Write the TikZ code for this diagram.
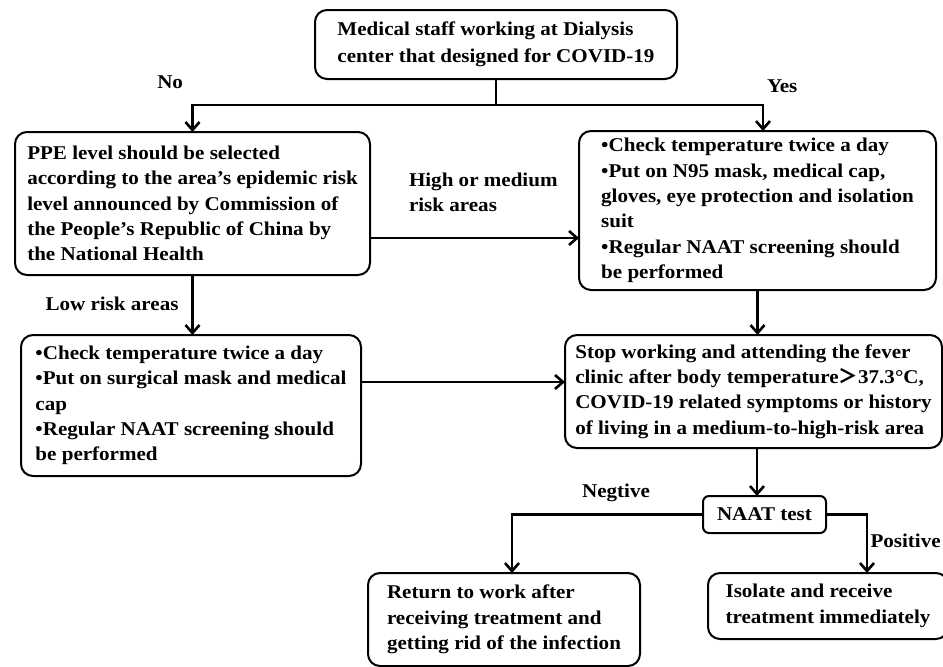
\documentclass[tikz,border=0pt]{standalone}
\usepackage{fontspec}
\setmainfont{Liberation Serif}[FakeStretch=1.08]
\newfontfamily\cjkfont{Noto Sans CJK SC}
\usetikzlibrary{positioning,arrows.meta}

\begin{document}
\begin{tikzpicture}[
	font=\fontsize{19.5}{25.4}\selectfont\bfseries,
	box/.style={
		draw,
		line width=2pt,
		rounded corners=12pt,
		align=left,
		inner xsep=6pt,
		inner ysep=4pt,
		outer sep=0pt,
	},
	rel/.style={-{Straight Barb[length=8pt,width=14pt]}, line width=2.6pt},
	lbl/.style={
		inner sep=0pt,
		outer sep=0pt,
		align=left,
	},
]

\useasboundingbox (0,0) rectangle (943pt,-667pt);

\node[box, minimum width=362pt, minimum height=69pt] (staff) at (496pt,-44.5pt) {
	Medical staff working at Dialysis\\[1.5pt]
	center that designed for COVID-19
};

\node[box, minimum width=355pt, minimum height=143pt, below left=53pt and -55pt of staff] (ppe) {
	PPE level should be selected\\
	according to the area’s epidemic risk\\
	level announced by Commission of\\
	the People’s Republic of China by\\
	the National Health
};

\node[box, minimum width=357pt, minimum height=159pt, below right=52pt and -98pt of staff] (check) {
	•Check temperature twice a day\\
	•Put on N95 mask, medical cap,\\
	gloves, eye protection and isolation\\
	suit\\
	•Regular NAAT screening should\\
	be performed
};

\node[box, minimum width=340pt, minimum height=141pt, below=60pt of ppe, xshift=-1.5pt] (low) {
	•Check temperature twice a day\\
	•Put on surgical mask and medical\\
	cap\\
	•Regular NAAT screening should\\
	be performed
};

\node[box, minimum width=377pt, minimum height=113pt, below=45pt of check, xshift=-4pt] (stop) {
	Stop working and attending the fever\\
	clinic after body temperature{\cjkfont ＞}37.3°C,\\
	COVID-19 related symptoms or history\\
	of living in a medium-to-high-risk area
};

\node[box, rounded corners=6pt, minimum width=123pt, minimum height=37pt, below=48pt of stop, xshift=11pt] (naat) {NAAT test};

\node[box, minimum width=272pt, minimum height=93pt, below left=40pt and 63pt of naat] (ret) {
	Return to work after\\
	receiving treatment and\\
	getting rid of the infection
};

\node[box, minimum width=240pt, minimum height=66pt, below right=40pt and -118pt of naat] (iso) {
	Isolate and receive\\
	treatment immediately
};

% connectors, labels sit beside the lines
\draw[line width=2.6pt] (staff.south) -- ++(0,-26pt) coordinate (split);
\draw[rel] (split) -| (ppe.north)
	node[lbl, pos=0.5, anchor=base east, xshift=-9.5pt, yshift=17pt] {No};
\draw[rel] (split) -| ([xshift=5.5pt]check.north)
	node[lbl, pos=0.5, anchor=base west, xshift=4pt, yshift=13pt] {Yes};

\coordinate (hm) at ([yshift=-34.5pt]ppe.east);
\draw[rel] (hm) -- (hm -| check.west)
	node[lbl, pos=0, anchor=south west, xshift=39pt, yshift=26pt] {High or medium\\risk areas};

\draw[rel] (ppe.south) -- (ppe.south |- low.north)
	node[lbl, pos=0.5, anchor=base east, xshift=-14pt, yshift=-5pt] {Low risk areas};

\coordinate (lr) at ([yshift=23.5pt]low.east);
\draw[rel] (lr) -- (lr -| stop.west);

\draw[rel] (check.south) -- (check.south |- stop.north);
\draw[rel] ([xshift=3.5pt]stop.south) -- ([xshift=3.5pt]stop.south |- naat.north);

\draw[rel] (naat.west) -| ([xshift=8pt]ret.north)
	node[lbl, pos=0.25, anchor=base, xshift=8.5pt, yshift=17.5pt] {Negtive};
\draw[rel] (naat.east) -| ([xshift=39pt]iso.north)
	node[lbl, pos=0.5, anchor=base west, xshift=3.5pt, yshift=-32.5pt] {Positive};

\end{tikzpicture}
\end{document}
